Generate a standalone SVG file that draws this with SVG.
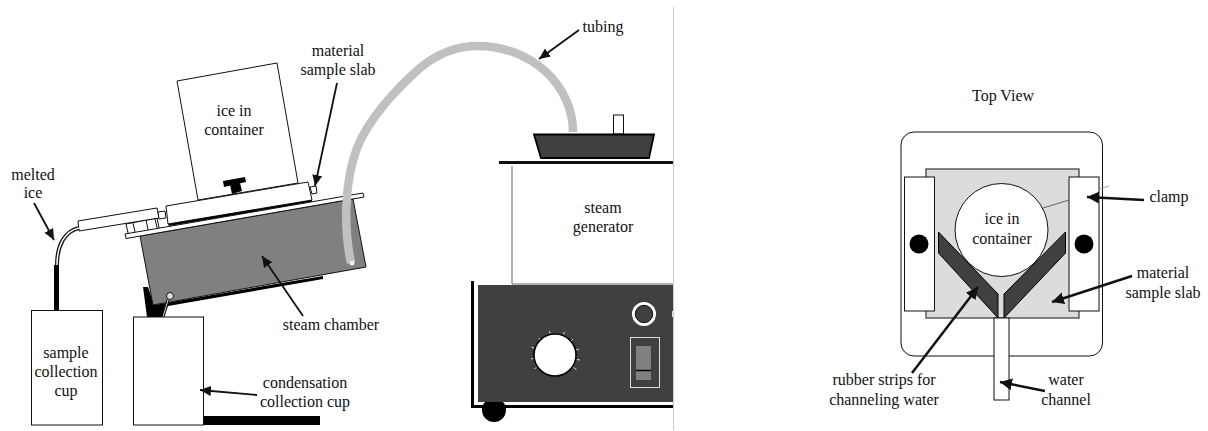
<svg xmlns="http://www.w3.org/2000/svg" width="1208" height="431" viewBox="0 0 1208 431">
<style>
text{font-family:"Liberation Serif","Times New Roman",serif;font-size:16px;fill:#111;text-anchor:middle}
.w{fill:#fff;stroke:#111;stroke-width:1}
.l{stroke:#111;stroke-width:1.800;fill:none;marker-end:url(#a)}
.t{stroke:#111;stroke-width:2.500;fill:none;marker-end:url(#b)}
.d{fill:#404040}
</style>
<defs>
<marker id="a" markerUnits="userSpaceOnUse" markerWidth="12" markerHeight="11" refX="11" refY="5" orient="auto"><path d="M0 0L11 5L0 10Z" fill="#111"/></marker>
<marker id="b" markerUnits="userSpaceOnUse" markerWidth="13" markerHeight="13" refX="12" refY="6" orient="auto"><path d="M0 0L12 6L0 12Z" fill="#111"/></marker>
</defs>
<rect width="1208" height="431" fill="#fff"/>
<line x1="673.500" y1="7" x2="673.500" y2="430" stroke="#ccc"/>
<g id="ice-container"><path class="w" d="M177 81L277 63L298 183L198 200Z"/><text x="234" y="116">ice in</text><text x="234" y="135">container</text></g>
<g id="sample-slab">
<path d="M223 181L245 177L246 182L224 187Z" fill="#000"/><path d="M230 185L240 183L242 191L232 194Z" fill="#000"/>
<path class="w" d="M310 187L316 186L317 193L312 194Z"/>
<path class="w" d="M166 206L308 182L312 200L168 224Z"/>
<path class="w" d="M126 224L157 218L160 232L129 237Z"/><path d="M133 223L136 236M146 220L149 234M155 219L158 232" stroke="#111"/>
<path class="w" d="M78 221L157 208L159 218L79 231Z"/>
<path class="w" d="M158 212L165 211L166 218L159 219Z"/>
<path d="M168 224L312 200L312 202L169 226Z" fill="#000"/>
</g>
<g id="steam-chamber">
<path d="M143 287L148 287L154 305L323 276L323 279L168 306L163 317L147 317Z" fill="#000"/>
<path d="M140 236L353 199L366 267L153 305Z" fill="#808080" stroke="#111"/>
<path class="w" d="M125 234L363 193L364 197L126 238.500Z"/>
<circle cx="170" cy="296" r="3.500" fill="#ddd" stroke="#111"/>
<path d="M168 300L163 317" stroke="#111" stroke-width="3"/><path d="M168 300L163 317" stroke="#ccc"/>
</g>
<g id="melted-ice-tube"><path d="M79 228C65 231 57 245 57 265" fill="none" stroke="#111" stroke-width="4"/><path d="M79 228C65 231 57 245 57 265" fill="none" stroke="#fff" stroke-width="1.500"/><path d="M56.500 265V311" stroke="#000" stroke-width="5"/></g>
<g id="sample-cup"><rect class="w" x="31.500" y="310.500" width="71" height="114.500"/><text x="66" y="358">sample</text><text x="66" y="377">collection</text><text x="66" y="396">cup</text></g>
<g id="condensation-cup"><rect class="w" x="133.500" y="317" width="70" height="108"/><rect x="204" y="416" width="116" height="9" fill="#000"/></g>
<g id="steam-generator">
<rect class="w" x="613.500" y="115" width="10" height="19"/>
<path d="M534 134.500H654L649 158H541Z" class="d" stroke="#000" stroke-width="1.800"/>
<path d="M499 162.500H673" stroke="#111" stroke-width="3"/>
<path d="M512 166V284H673" fill="none" stroke="#666" stroke-width="1"/>
<text x="603" y="213">steam</text><text x="603" y="232">generator</text>
<circle cx="494" cy="410" r="12" fill="#000"/>
<path d="M472.500 281V406.500H673" fill="none" stroke="#000" stroke-width="3"/>
<rect x="478" y="285" width="195" height="117" class="d"/>
<circle cx="644" cy="314" r="10.500" class="d" stroke="#fff" stroke-width="3"/><circle cx="644" cy="314" r="8.700" fill="none" stroke="#000" stroke-width=".8"/>
<rect x="672" y="311" width="1" height="6" fill="#ddd"/>
<path d="M549.500 331L550 333.500M564.500 332L563.500 334.500M573 339L571 341M579 349L576 350M580 360L577 359.500M576.500 369.500L573.500 367.500M534.500 369L536 367.500M531 359L533.500 358.500M531.500 347L534 348M538.500 338L540.500 340" stroke="#ddd" stroke-width="1"/>
<circle cx="555" cy="355" r="21" fill="#fff" stroke="#000" stroke-width="1.500"/>
<rect x="630.500" y="337.500" width="29" height="50" class="d" stroke="#ddd"/>
<rect x="636" y="346" width="15" height="34" fill="#808080"/><path d="M636 370.500H651" stroke="#000" stroke-width="1.500"/>
</g>
<g id="tubing"><path d="M351 263C343 225 345 180 357 148C368 120 395 90 420 68C438 53 458 46 478 46A95 86 0 0 1 573 132" fill="none" stroke="#c0c0c0" stroke-width="8.500"/><circle cx="352" cy="263" r="2.500" fill="#eee"/></g>
<g id="top-view">
<text x="1003" y="101">Top View</text>
<rect class="w" x="901" y="132" width="201.500" height="224" rx="13"/>
<rect x="926" y="169" width="153" height="149" fill="#dcdcdc" stroke="#444" stroke-width="1.300"/>
<rect class="w" x="904.500" y="177" width="30" height="134" stroke="#444"/>
<rect class="w" x="1069" y="177" width="30" height="134" stroke="#444"/>
<circle cx="919" cy="244" r="9.500" fill="#000"/><circle cx="1084" cy="244" r="9.500" fill="#000"/>
<circle cx="1001.500" cy="230" r="46.500" class="w"/>
<text x="1002" y="224">ice in</text><text x="1002" y="244">container</text>
<path d="M1043 208L1069 200" stroke="#444" stroke-width=".8"/><path d="M1099 189L1109 186" stroke="#888" stroke-width=".8"/>
<path d="M938.500 232L998 294V318L938.500 253Z" class="d" stroke="#000"/>
<path d="M1065.500 232L1004 294V318L1065.500 253Z" class="d" stroke="#000"/>
<rect class="w" x="994" y="318" width="15" height="82" stroke="#444"/>
</g>
<g id="connectors">
<path class="l" d="M34 203L54 240"/>
<path class="l" d="M337 83L315 186"/>
<path class="l" d="M303 316L262 256"/>
<path class="l" d="M257 395L200 390"/>
<path class="l" d="M579 30L539 59"/>
<path class="t" d="M1144 200L1087 197"/>
<path class="t" d="M1132 276L1052 302"/>
<path class="t" d="M912 373L978 287"/>
<path class="t" d="M1045 391L1000 382"/>
</g>
<g id="labels">
<text x="33" y="180">melted</text><text x="33" y="198">ice</text>
<text x="338" y="56">material</text><text x="338" y="75">sample slab</text>
<text x="331" y="330">steam chamber</text>
<text x="305" y="388">condensation</text><text x="305" y="407">collection cup</text>
<text x="603" y="32">tubing</text>
<text x="1169" y="202">clamp</text>
<text x="1163" y="278">material</text><text x="1163" y="298">sample slab</text>
<text x="884" y="385">rubber strips for</text><text x="884" y="405">channeling water</text>
<text x="1066" y="385">water</text><text x="1066" y="405">channel</text>
</g>
</svg>
